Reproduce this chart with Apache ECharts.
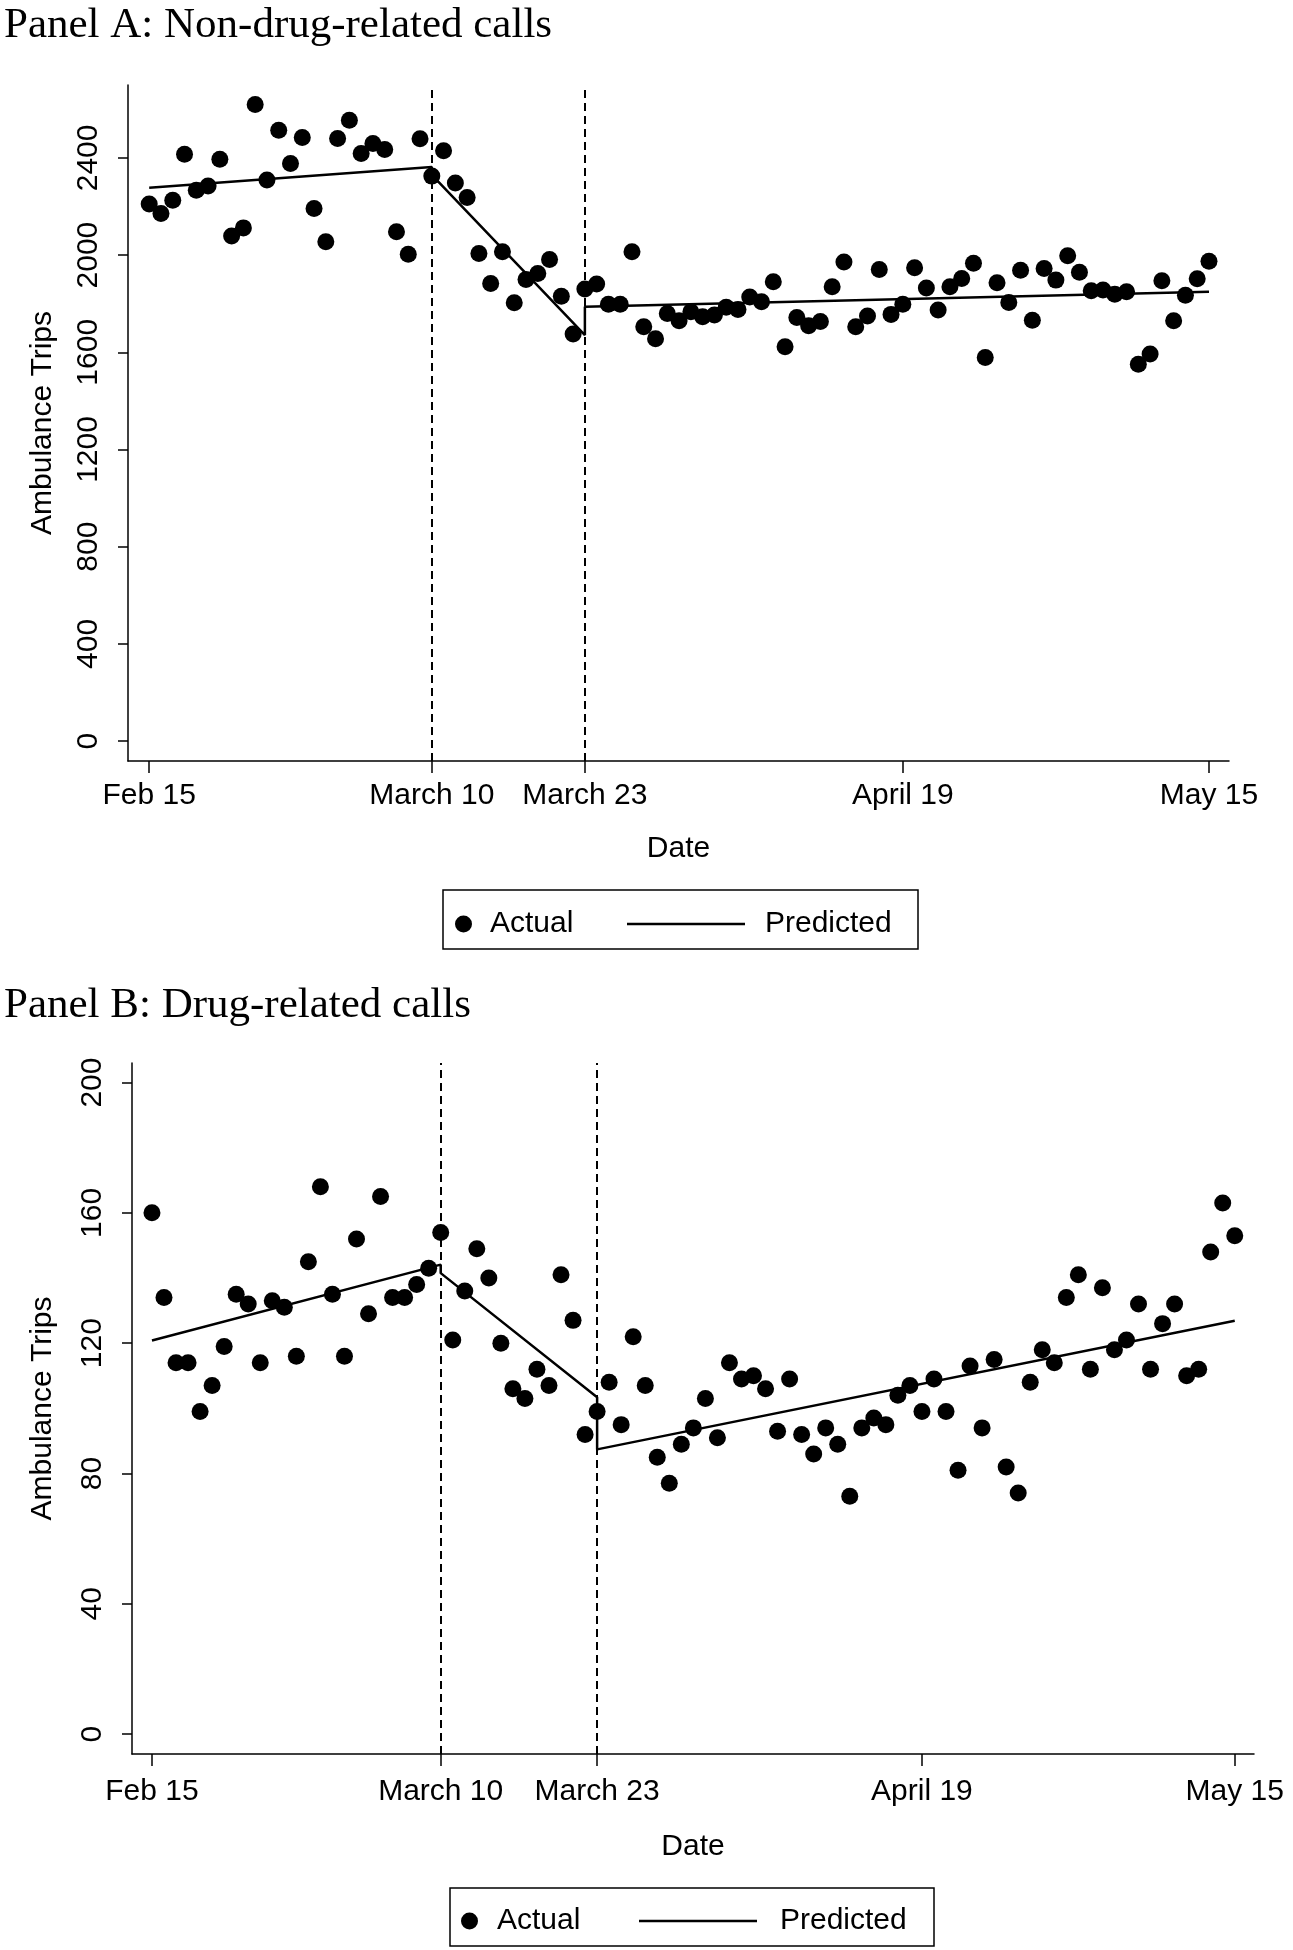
<!DOCTYPE html>
<html><head><meta charset="utf-8">
<script src="https://cdn.jsdelivr.net/npm/echarts@6/dist/echarts.min.js"></script>
<style>html,body{margin:0;padding:0;background:#fff}#c{width:1293px;height:1950px}</style>
</head><body><div id="c"></div>
<script>
// ---- data ----
const tickDays = [0, 24, 37, 64, 90];
const tickLabels = ['Feb 15', 'March 10', 'March 23', 'April 19', 'May 15'];
const breakDays = [24, 37];

const nonDrugTicks = [0, 400, 800, 1200, 1600, 2000, 2400];
const drugTicks = [0, 40, 80, 120, 160, 200];

// Daily actual ambulance trips, Feb 15 (day 0) .. May 15 (day 90)
const nonDrugActual = [2210, 2171, 2226, 2415, 2267, 2284, 2394, 2079, 2112, 2620,
  2309, 2514, 2377, 2484, 2192, 2055, 2480, 2555, 2418, 2459,
  2435, 2096, 2003, 2479, 2325, 2429, 2297, 2237, 2007, 1883,
  2014, 1804, 1900, 1924, 1982, 1831, 1675, 1860, 1881, 1798,
  1798, 2014, 1705, 1656, 1760, 1730, 1767, 1746, 1753, 1785,
  1776, 1828, 1808, 1890, 1623, 1743, 1709, 1727, 1870, 1972,
  1705, 1749, 1941, 1756, 1798, 1948, 1865, 1774, 1870, 1904,
  1966, 1579, 1886, 1805, 1938, 1732, 1945, 1897, 1997, 1929,
  1853, 1856, 1839, 1849, 1551, 1593, 1894, 1730, 1835, 1903, 1975];

const drugActual = [160, 134, 114, 114, 99, 107, 119, 135, 132, 114,
  133, 131, 116, 145, 168, 135, 116, 152, 129, 165,
  134, 134, 138, 143, 154, 121, 136, 149, 140, 120,
  106, 103, 112, 107, 141, 127, 92, 99, 108, 95,
  122, 107, 85, 77, 89, 94, 103, 91, 114, 109,
  110, 106, 93, 109, 92, 86, 94, 89, 73, 94,
  97, 95, 104, 107, 99, 109, 99, 81, 113, 94,
  115, 82, 74, 108, 118, 114, 134, 141, 112, 137,
  118, 121, 132, 112, 126, 132, 110, 112, 148, 163, 153];

// Predicted (piecewise fitted) lines: day positions and values
const predDays = [0, 24, 24, 37, 37, 90];
const nonDrugPred = [2277, 2363, 2330, 1671, 1787, 1849];
const drugPred = [120.8, 144.1, 141.5, 103.4, 87.4, 126.9];

// ---- chart ----
const SANS = '"Liberation Sans", Arial, Helvetica, sans-serif';
const SERIF = '"Liberation Serif", "Times New Roman", serif';
const labelMap = {};
tickDays.forEach((d, i) => { labelMap[d] = tickLabels[i]; });

function xAxisCfg(gi, min, max, gap, margin) {
  return {
    type: 'value', gridIndex: gi, min: min, max: max,
    name: 'Date', nameLocation: 'middle', nameGap: gap,
    nameTextStyle: { fontFamily: SANS, fontSize: 30, color: '#000' },
    axisLine: { show: true, onZero: false, lineStyle: { color: '#000', width: 1.5 } },
    axisTick: { show: true, length: 12, customValues: tickDays, lineStyle: { color: '#000', width: 1.5 } },
    axisLabel: { customValues: tickDays, formatter: v => labelMap[v], fontFamily: SANS, fontSize: 30, color: '#000', margin: margin },
    splitLine: { show: false }
  };
}
function yAxisCfg(gi, min, max, ticks, gap) {
  return {
    type: 'value', gridIndex: gi, min: min, max: max,
    name: 'Ambulance Trips', nameLocation: 'middle', nameRotate: 90, nameGap: gap,
    nameTextStyle: { fontFamily: SANS, fontSize: 30, color: '#000' },
    axisLine: { show: true, onZero: false, lineStyle: { color: '#000', width: 1.5 } },
    axisTick: { show: true, length: 10, customValues: ticks, lineStyle: { color: '#000', width: 1.5 } },
    axisLabel: { customValues: ticks, rotate: 90, formatter: v => String(v), fontFamily: SANS, fontSize: 30, color: '#000', margin: 24 },
    splitLine: { show: false }
  };
}
function vlines() {
  return {
    silent: true, symbol: ['none', 'none'], label: { show: false },
    lineStyle: { color: '#000', type: [8, 5], width: 2 },
    emphasis: { disabled: true },
    data: breakDays.map(d => ({ xAxis: d }))
  };
}
const legendText = (pad) => ({ fontFamily: SANS, fontSize: 30, color: '#000', padding: [0, 0, 0, pad] });

const option = {
  backgroundColor: '#fff',
  animation: false,
  title: [
    { text: 'Panel A: Non-drug-related calls', left: 4, top: 4, padding: 0,
      textStyle: { fontFamily: SERIF, fontSize: 43, fontWeight: 'normal', color: '#000' } },
    { text: 'Panel B: Drug-related calls', left: 4, top: 984, padding: 0,
      textStyle: { fontFamily: SERIF, fontSize: 43, fontWeight: 'normal', color: '#000' } }
  ],
  grid: [
    { left: 128, top: 85, width: 1101, height: 676 },
    { left: 132, top: 1063, width: 1122, height: 691 }
  ],
  xAxis: [xAxisCfg(0, -1.8, 91.7, 73, 20), xAxisCfg(1, -1.66, 91.6, 78, 23)],
  yAxis: [yAxisCfg(0, -82, 2700, nonDrugTicks, 70), yAxisCfg(1, -6.1, 206, drugTicks, 74)],
  legend: [
    { data: ['Actual'], left: 455, top: 909, itemWidth: 17, itemHeight: 17, icon: 'circle', selectedMode: false, padding: 0, textStyle: legendText(13) },
    { data: ['Predicted'], left: 627, top: 909, itemWidth: 118, itemHeight: 2.5, icon: 'rect', selectedMode: false, padding: 0, textStyle: legendText(15) },
    { data: ['Actual'], left: 461, top: 1906, itemWidth: 17, itemHeight: 17, icon: 'circle', selectedMode: false, padding: 0, textStyle: legendText(14) },
    { data: ['Predicted'], left: 639, top: 1906, itemWidth: 118, itemHeight: 2.5, icon: 'rect', selectedMode: false, padding: 0, textStyle: legendText(18) }
  ],
  graphic: [
    { type: 'rect', shape: { x: 443, y: 890, width: 475, height: 59 }, style: { fill: null, stroke: '#000', lineWidth: 1.5 }, silent: true },
    { type: 'rect', shape: { x: 450, y: 1888, width: 484, height: 58 }, style: { fill: null, stroke: '#000', lineWidth: 1.5 }, silent: true }
  ],
  series: [
    { name: 'Actual', type: 'scatter', xAxisIndex: 0, yAxisIndex: 0, symbolSize: 17,
      itemStyle: { color: '#000', opacity: 1 }, emphasis: { disabled: true },
      data: nonDrugActual.map((v, i) => [i, v]), markLine: vlines() },
    { name: 'Predicted', type: 'line', xAxisIndex: 0, yAxisIndex: 0, showSymbol: false, symbol: 'none',
      lineStyle: { color: '#000', width: 2.5 }, itemStyle: { color: '#000' }, emphasis: { disabled: true },
      data: predDays.map((d, i) => [d, nonDrugPred[i]]) },
    { name: 'Actual', type: 'scatter', xAxisIndex: 1, yAxisIndex: 1, symbolSize: 17,
      itemStyle: { color: '#000', opacity: 1 }, emphasis: { disabled: true },
      data: drugActual.map((v, i) => [i, v]), markLine: vlines() },
    { name: 'Predicted', type: 'line', xAxisIndex: 1, yAxisIndex: 1, showSymbol: false, symbol: 'none',
      lineStyle: { color: '#000', width: 2.5 }, itemStyle: { color: '#000' }, emphasis: { disabled: true },
      data: predDays.map((d, i) => [d, drugPred[i]]) }
  ]
};
const chart = echarts.init(document.getElementById('c'));
chart.setOption(option);
</script>
</body></html>
